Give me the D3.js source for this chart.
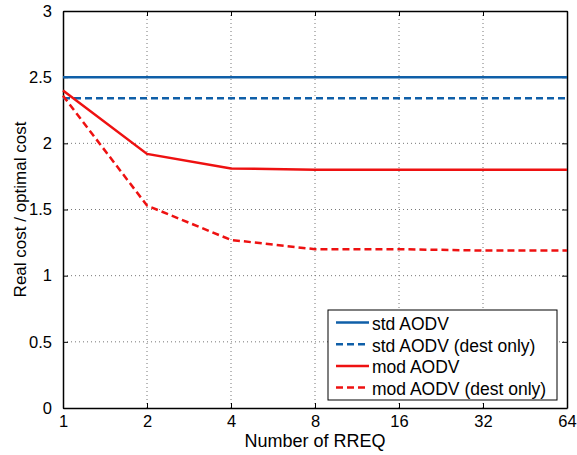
<!DOCTYPE html>
<html>
<head>
<meta charset="utf-8">
<script src="https://cdn.jsdelivr.net/npm/d3@7"></script>
<style>
  body { margin: 0; background: #fff; }
  text { font-family: "Liberation Sans", Arial, sans-serif; fill: #000; }
</style>
</head>
<body>
<div id="canvas"></div>
<script>
// number of RREQ (log2 axis)
const rreq = [1, 2, 4, 8, 16, 32, 64];
const stdAodv = [2.5, 2.5, 2.5, 2.5, 2.5, 2.5, 2.5];
const stdAodvDest = [2.34, 2.34, 2.34, 2.34, 2.34, 2.34, 2.34];
const modAodv = [2.40, 1.92, 1.81, 1.80, 1.80, 1.80, 1.80];
const modAodvDest = [2.36, 1.53, 1.27, 1.20, 1.20, 1.19, 1.19];
const yTicks = [0, 0.5, 1, 1.5, 2, 2.5, 3];
const seriesNames = ["std AODV", "std AODV (dest only)", "mod AODV", "mod AODV (dest only)"];

const width = 577, height = 455;
const margin = { top: 11, left: 63, bottom: 47, right: 10 };
const iwidth = width - margin.left - margin.right;
const iheight = height - margin.top - margin.bottom;

const svg = d3.select("#canvas").append("svg")
    .attr("width", width)
    .attr("height", height);

const g = svg.append("g").attr("transform", `translate(${margin.left},${margin.top})`);

const x = d3.scaleLog().base(2).domain([1, 64]).range([0, iwidth]);
const y = d3.scaleLinear().domain([0, 3]).range([iheight, 0]);

// grid
g.append("g").selectAll("line").data(rreq.slice(1, -1)).enter().append("line")
    .attr("x1", d => x(d)).attr("x2", d => x(d))
    .attr("y1", 0).attr("y2", iheight)
    .attr("stroke", "#777").attr("stroke-width", 1).attr("stroke-dasharray", "1,3");
g.append("g").selectAll("line").data(yTicks.slice(1, -1)).enter().append("line")
    .attr("y1", d => y(d)).attr("y2", d => y(d))
    .attr("x1", 0).attr("x2", iwidth)
    .attr("stroke", "#777").attr("stroke-width", 1).attr("stroke-dasharray", "1,3");

// axes with inward ticks
const xAxis = g.append("g")
    .attr("transform", `translate(0,${iheight})`)
    .call(d3.axisBottom(x).tickValues(rreq).tickFormat(d3.format("d")).tickSizeInner(-5).tickSizeOuter(0).tickPadding(7));
const xTop = g.append("g")
    .call(d3.axisTop(x).tickValues(rreq).tickFormat("").tickSizeInner(-5).tickSizeOuter(0));
const yAxis = g.append("g")
    .call(d3.axisLeft(y).tickValues(yTicks).tickFormat(d3.format("")).tickSizeInner(-5).tickSizeOuter(0).tickPadding(11));
const yRight = g.append("g")
    .attr("transform", `translate(${iwidth},0)`)
    .call(d3.axisRight(y).tickValues(yTicks).tickFormat("").tickSizeInner(-5).tickSizeOuter(0));

[xAxis, xTop, yAxis, yRight].forEach(a => {
    a.select(".domain").attr("stroke", "#000").attr("stroke-width", 1.5);
    a.selectAll(".tick line").attr("stroke", "#000");
    a.selectAll(".tick text").style("font-size", "16.5px").style("font-family", "Liberation Sans, Arial, sans-serif");
});

// lines
const series = [
    { name: seriesNames[0], values: stdAodv, color: "#0f5fa8", dash: null },
    { name: seriesNames[1], values: stdAodvDest, color: "#0f5fa8", dash: "7,4" },
    { name: seriesNames[2], values: modAodv, color: "#ee1111", dash: null },
    { name: seriesNames[3], values: modAodvDest, color: "#ee1111", dash: "7,4" }
];

const line = d3.line()
    .x((d, i) => x(rreq[i]))
    .y(d => y(d));

g.selectAll(".series").data(series).enter().append("path")
    .attr("class", "series")
    .attr("d", d => line(d.values))
    .attr("fill", "none")
    .attr("stroke", d => d.color)
    .attr("stroke-width", 2.5)
    .attr("stroke-dasharray", d => d.dash);

// axis labels
svg.append("text")
    .attr("x", margin.left + iwidth / 2)
    .attr("y", 447)
    .attr("text-anchor", "middle")
    .style("font-size", "18px")
    .text("Number of RREQ");

svg.append("text")
    .attr("transform", `translate(26,${margin.top + iheight / 2}) rotate(-90)`)
    .attr("text-anchor", "middle")
    .style("font-size", "17px")
    .text("Real cost / optimal cost");

// legend
const legend = svg.append("g").attr("transform", "translate(328,310)");
legend.append("rect")
    .attr("width", 229).attr("height", 90)
    .attr("fill", "#fff").attr("stroke", "#000").attr("stroke-width", 1);

const items = legend.selectAll(".item").data(series).enter().append("g")
    .attr("class", "item")
    .attr("transform", (d, i) => `translate(0,${12.5 + i * 21.7})`);
items.append("line")
    .attr("x1", 8).attr("x2", 41)
    .attr("stroke", d => d.color)
    .attr("stroke-width", 2.5)
    .attr("stroke-dasharray", d => d.dash);
items.append("text")
    .attr("x", 44).attr("y", 7.5)
    .style("font-size", "17.5px")
    .text(d => d.name);
</script>
</body>
</html>
